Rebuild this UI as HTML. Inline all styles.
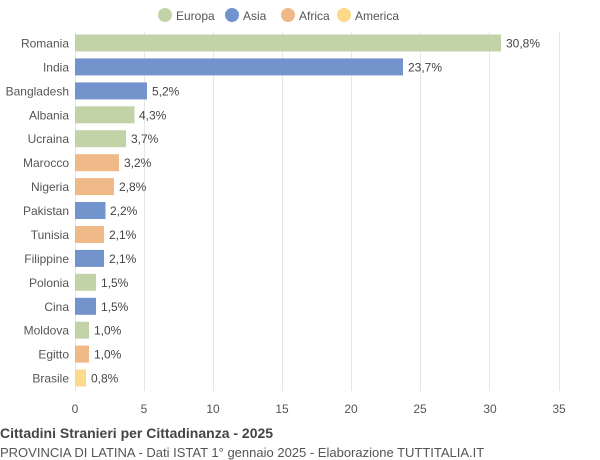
<!DOCTYPE html>
<html><head><meta charset="utf-8"><style>
body{margin:0;background:#fff;}
svg{display:block;font-family:"Liberation Sans",sans-serif;}
</style></head><body>
<svg width="600" height="460" viewBox="0 0 600 460">
<g font-size="12" fill="#555">
<circle cx="165" cy="15" r="7" fill="#c2d3a8"/><text x="176" y="20">Europa</text>
<circle cx="232" cy="15" r="7" fill="#7393cc"/><text x="243" y="20">Asia</text>
<circle cx="288" cy="15" r="7" fill="#f0b988"/><text x="299" y="20">Africa</text>
<circle cx="344" cy="15" r="7" fill="#fdd98a"/><text x="355" y="20">America</text>
</g>
<g stroke="#e6e6e6" stroke-width="1">
<line x1="75.5" y1="32" x2="75.5" y2="391"/><line x1="144.5" y1="32" x2="144.5" y2="391"/>
<line x1="213.5" y1="32" x2="213.5" y2="391"/><line x1="282.5" y1="32" x2="282.5" y2="391"/>
<line x1="351.5" y1="32" x2="351.5" y2="391"/><line x1="420.5" y1="32" x2="420.5" y2="391"/>
<line x1="489.5" y1="32" x2="489.5" y2="391"/><line x1="559.5" y1="32" x2="559.5" y2="391"/>
</g>
<g font-size="12" fill="#555" text-anchor="middle">
<text x="75" y="413">0</text><text x="144" y="413">5</text><text x="213" y="413">10</text><text x="282" y="413">15</text><text x="351" y="413">20</text><text x="420" y="413">25</text><text x="490" y="413">30</text><text x="559" y="413">35</text>
</g>
<g id="bars" font-size="12"></g>
<text x="0" y="438" font-size="14" font-weight="bold" fill="#444">Cittadini Stranieri per Cittadinanza - 2025</text>
<text x="0" y="457" font-size="13" fill="#555">PROVINCIA DI LATINA - Dati ISTAT 1° gennaio 2025 - Elaborazione TUTTITALIA.IT</text>
<g font-size="12">
<script>
</script>
</g>
<g font-size="12" fill="#444">
<rect x="75" y="34.5" width="426" height="17" fill="#c2d3a8"/><text x="69" y="47.5" text-anchor="end" fill="#555">Romania</text><text x="506" y="47.5">30,8%</text>
<rect x="75" y="58.4" width="328" height="17" fill="#7393cc"/><text x="69" y="71.4" text-anchor="end" fill="#555">India</text><text x="408" y="71.4">23,7%</text>
<rect x="75" y="82.4" width="72" height="17" fill="#7393cc"/><text x="69" y="95.4" text-anchor="end" fill="#555">Bangladesh</text><text x="152" y="95.4">5,2%</text>
<rect x="75" y="106.3" width="59.5" height="17" fill="#c2d3a8"/><text x="69" y="119.3" text-anchor="end" fill="#555">Albania</text><text x="139" y="119.3">4,3%</text>
<rect x="75" y="130.2" width="51" height="17" fill="#c2d3a8"/><text x="69" y="143.2" text-anchor="end" fill="#555">Ucraina</text><text x="131" y="143.2">3,7%</text>
<rect x="75" y="154.2" width="44" height="17" fill="#f0b988"/><text x="69" y="167.2" text-anchor="end" fill="#555">Marocco</text><text x="124" y="167.2">3,2%</text>
<rect x="75" y="178.1" width="39" height="17" fill="#f0b988"/><text x="69" y="191.1" text-anchor="end" fill="#555">Nigeria</text><text x="119" y="191.1">2,8%</text>
<rect x="75" y="202" width="30.5" height="17" fill="#7393cc"/><text x="69" y="215" text-anchor="end" fill="#555">Pakistan</text><text x="110" y="215">2,2%</text>
<rect x="75" y="226" width="29" height="17" fill="#f0b988"/><text x="69" y="239" text-anchor="end" fill="#555">Tunisia</text><text x="109" y="239">2,1%</text>
<rect x="75" y="249.9" width="29" height="17" fill="#7393cc"/><text x="69" y="262.9" text-anchor="end" fill="#555">Filippine</text><text x="109" y="262.9">2,1%</text>
<rect x="75" y="273.8" width="21" height="17" fill="#c2d3a8"/><text x="69" y="286.8" text-anchor="end" fill="#555">Polonia</text><text x="101" y="286.8">1,5%</text>
<rect x="75" y="297.8" width="21" height="17" fill="#7393cc"/><text x="69" y="310.8" text-anchor="end" fill="#555">Cina</text><text x="101" y="310.8">1,5%</text>
<rect x="75" y="321.7" width="14" height="17" fill="#c2d3a8"/><text x="69" y="334.7" text-anchor="end" fill="#555">Moldova</text><text x="94" y="334.7">1,0%</text>
<rect x="75" y="345.6" width="14" height="17" fill="#f0b988"/><text x="69" y="358.6" text-anchor="end" fill="#555">Egitto</text><text x="94" y="358.6">1,0%</text>
<rect x="75" y="369.5" width="11" height="17" fill="#fdd98a"/><text x="69" y="382.5" text-anchor="end" fill="#555">Brasile</text><text x="91" y="382.5">0,8%</text>
</g>
</svg>
</body></html>
